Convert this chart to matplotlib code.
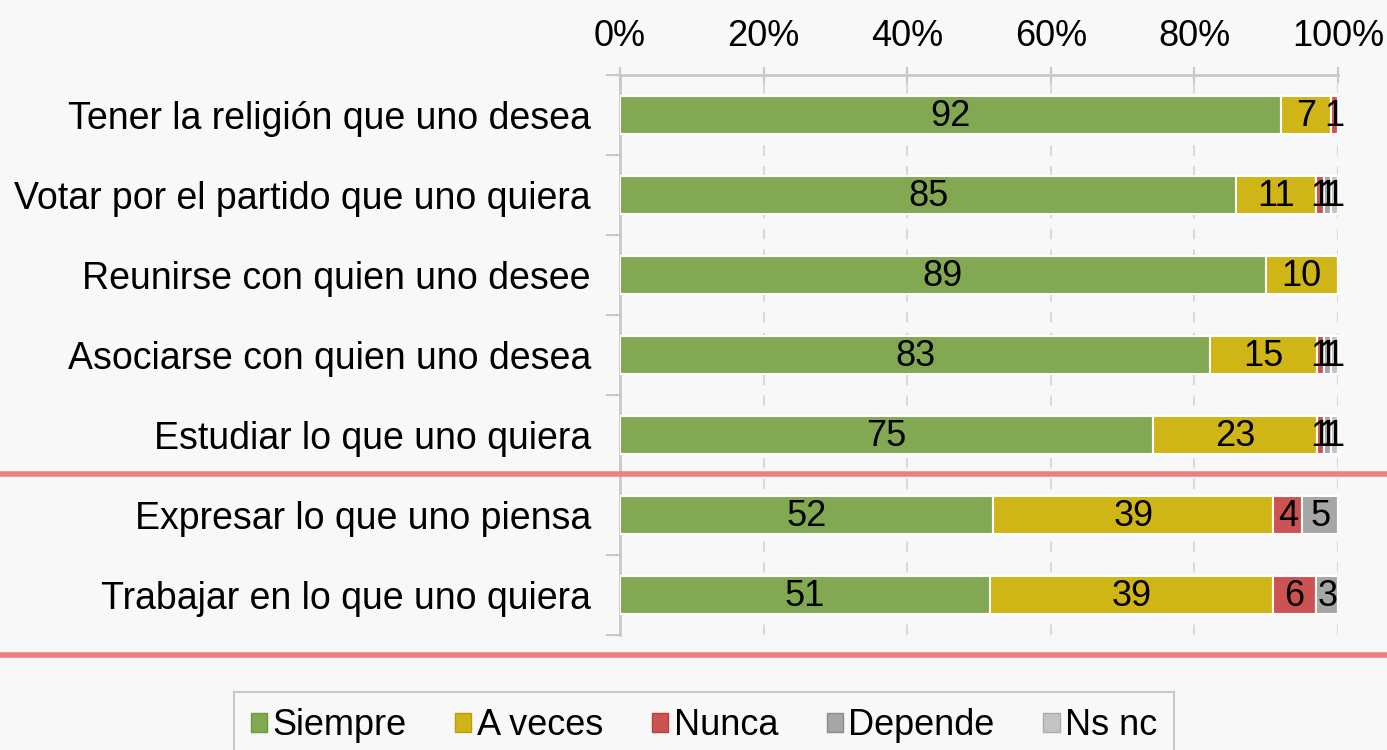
import numpy as np
import matplotlib
matplotlib.use("Agg")
import matplotlib.pyplot as plt
from matplotlib.lines import Line2D

# data (shown as % of row)
categories = ["Tener la religión que uno desea",
              "Votar por el partido que uno quiera",
              "Reunirse con quien uno desee",
              "Asociarse con quien uno desea",
              "Estudiar lo que uno quiera",
              "Expresar lo que uno piensa",
              "Trabajar en lo que uno quiera"]
siempre = [92, 85, 89, 83, 75, 52, 51]
a_veces = [7, 11, 10, 15, 23, 39, 39]
nunca = [1, 1, 0, 1, 1, 4, 6]
depende = [0, 1, 0, 1, 1, 5, 3]
ns_nc = [0, 1, 0, 1, 1, 0, 0]

series = ["Siempre", "A veces", "Nunca", "Depende", "Ns nc"]
colors = ["#82A952", "#D0B516", "#CD5352", "#A6A6A6", "#C3C3C3"]
edge_colors = ["#6E9A3E", "#B89F0A", "#B84040", "#8C8C8C", "#AAAAAA"]

plt.rcParams['font.family'] = ['Liberation Sans', 'DejaVu Sans']

values = np.array([siempre, a_veces, nunca, depende, ns_nc], dtype=float)
totals = values.sum(axis=0)
pct = values / totals * 100

fig = plt.figure(figsize=(13.87, 7.5), dpi=100, facecolor="#F8F8F8")
ax = fig.add_axes([0.447, 0.1533, 0.5177, 0.7467])
ax.set_facecolor("#F8F8F8")

y = np.arange(len(categories))
left = np.zeros(len(categories))
for i in range(len(series)):
    ax.barh(y, pct[i], left=left, height=0.48, color=colors[i],
            edgecolor="white", linewidth=1.5, zorder=3)
    for j in range(len(categories)):
        if values[i, j] > 0:
            ax.text(left[j] + pct[i, j] / 2, y[j] + 0.02, "%d" % values[i, j],
                    ha="center", va="center", fontsize=26, zorder=4)
    left += pct[i]

ax.set_xlim(0, 100)
ax.set_ylim(len(categories) - 0.5, -0.5)
ax.xaxis.tick_top()
ax.set_xticks(np.arange(0, 101, 20))
ax.set_xticklabels(["%d%%" % v for v in range(0, 101, 20)], fontsize=26)
ax.tick_params(axis="x", direction="inout", length=12, color="#C8C8C8",
               width=1.5, pad=9)
ax.set_yticks(y)
ax.set_yticklabels(categories, fontsize=27)
ax.tick_params(axis="y", length=0, pad=21)
ax.set_yticks(np.arange(-0.5, len(categories), 1), minor=True)
ax.tick_params(axis="y", which="minor", length=10, color="#C8C8C8", width=1.5)

ax.grid(axis="x", linestyle=(0, (5, 5)), color="#D9D9D9", linewidth=1.5, zorder=0)
for s in ["right", "bottom"]:
    ax.spines[s].set_visible(False)
ax.spines["top"].set_color("#C8C8C8")
ax.spines["top"].set_linewidth(2)
ax.spines["left"].set_color("#C8C8C8")
ax.spines["left"].set_linewidth(2)

# separator lines across the figure
for yy in [1 - 474 / 750, 1 - 655 / 750]:
    fig.add_artist(Line2D([0, 1], [yy, yy], color="#F08080", linewidth=4,
                          transform=fig.transFigure))

handles = [plt.Rectangle((0, 0), 1, 1, facecolor=colors[i], edgecolor=edge_colors[i])
           for i in range(len(series))]
leg = fig.legend(handles, series, loc="upper center", ncol=5,
                 bbox_to_anchor=(704 / 1387, 1 - 692 / 750), fontsize=26,
                 frameon=True, fancybox=False, handlelength=0.45, handleheight=0.45,
                 handletextpad=0.15, columnspacing=1.35, borderpad=0.45,
                 borderaxespad=0)
leg.get_frame().set_edgecolor("#BFBFBF")
leg.get_frame().set_facecolor("#F8F8F8")
leg.get_frame().set_linewidth(1.5)

fig.savefig("out.png", dpi=100, facecolor=fig.get_facecolor())
